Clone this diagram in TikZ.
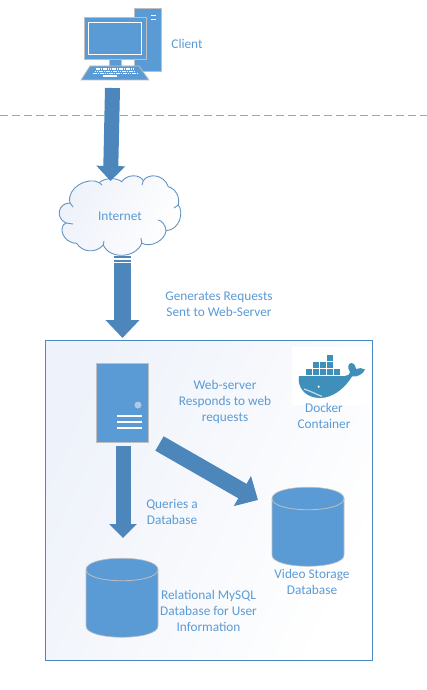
\documentclass[tikz,border=0pt]{standalone}
\usepackage{fontspec}
\setmainfont{Carlito}
\usetikzlibrary{arrows.meta,calc}
\definecolor{iconblue}{HTML}{5B9BD5}
\definecolor{arrowblue}{HTML}{4C86BB}
\definecolor{boxblue}{HTML}{4A88C4}
\definecolor{rimgray}{HTML}{BFBFBF}
\definecolor{whaleblue}{HTML}{3F8FBB}
\definecolor{paleblue}{HTML}{EEF2FA}
\definecolor{palecloud}{HTML}{EDF1F9}
\definecolor{dotblue}{HTML}{B0C8E4}
\tikzset{
  txt/.style={text=iconblue,font=\fontsize{13.3}{16}\selectfont,align=center,inner sep=0pt},
  blockarrow/.style={draw=arrowblue,line width=#1},
  blockarrow/.default=16pt,
  anchorbox/.style={inner sep=0pt,draw=none},
  iconfill/.style={fill=iconblue,draw=rimgray,line width=1pt},
  whitebar/.style={draw=white,line width=1.2pt},
}
\newcommand{\dbcyl}[4]{% name, left, top, width
  \node[anchorbox,minimum width=#4pt,minimum height=80pt] (#1) at (#2+#4/2,#3+40) {};
  \draw[fill=iconblue,draw=rimgray,line width=.6pt] (#2,#3+11.5) .. controls (#2,#3-3.5) and (#2+#4,#3-3.5) .. (#2+#4,#3+11.5)
     -- (#2+#4,#3+68) .. controls (#2+#4,#3+83) and (#2,#3+83) .. (#2,#3+68) -- cycle;
  \draw[rimgray,line width=0.8pt] (#2,#3+11.5) .. controls (#2,#3+26.5) and (#2+#4,#3+26.5) .. (#2+#4,#3+11.5);
}
\begin{document}
\begin{tikzpicture}[x=1pt,y=-1pt]
\useasboundingbox (0,0) rectangle (427,690);
\fill[white] (0,0) rectangle (427,690);

% separator
\draw[black!35,line width=1pt,dash pattern=on 8pt off 4pt] (0,116) -- (427,116);

% container
\node[draw=boxblue,line width=1pt,minimum width=327pt,minimum height=320pt,inner sep=0pt,
  left color=paleblue,middle color=white,right color=white,shading angle=65] (container) at (208.5,500) {};
\fill[white] (292,347) rectangle (370,405);

% client computer
\node[anchorbox,minimum width=81pt,minimum height=72pt] (pc) at (120.5,44.5) {};
\draw[iconfill] (134,9) rectangle (161,72);
\draw[white,line width=1.1pt] (151,15.5) -- (156,15.5) (151,19.5) -- (156,19.5);
\fill[iconblue] (109,60) rectangle (121,67);
\draw[rimgray,line width=.8pt] (109,60) -- (109,66) (121,60) -- (121,66);
\draw[iconfill] (84,18) rectangle (146,60);
\draw[white,line width=1pt] (88.5,22.5) rectangle (141.5,55);
\draw[fill=iconblue,draw=rimgray,line width=.8pt] (90,66) -- (139,66) -- (149,80) -- (81,80) -- cycle;
\draw[white,line width=1.2pt,dash pattern=on 1.6pt off .7pt]
  (96,69) -- (134,69) (94.5,71.2) -- (135.5,71.2) (93,73.4) -- (137,73.4);
\draw[white,line width=1.5pt] (103,75.8) -- (117,75.8);
\node[txt,anchor=center] (clientlbl) at (187,44) {Client};

% cloud
\path[left color=palecloud,right color=white,shading angle=65,draw=iconblue!80!gray,line width=.9pt]
  (99.3,182.7) .. controls (104,178) and (116,177) .. (121.7,181.7)
  .. controls (127,174) and (140,174) .. (143.3,180.7)
  .. controls (148,173) and (164,174) .. (168.3,186.7)
  .. controls (176,189) and (180,197) .. (178.3,205)
  .. controls (184,212) and (180,230) .. (166,230.7)
  .. controls (165,240) and (152,248) .. (141.7,243.3)
  .. controls (136,258) and (110,260) .. (103.3,245)
  .. controls (95,254) and (82,252) .. (76.7,243.3)
  .. controls (62,243) and (58,226) .. (66,223)
  .. controls (55,218) and (58,203) .. (70,203)
  .. controls (66,188) and (88,176) .. (99.3,182.7) -- cycle;
\draw[iconblue!80!gray,line width=.9pt]
  (99.3,182.7) -- (102,185)
  (143.3,180.7) -- (142,185)
  (178.3,205) -- (174,208)
  (166,230.7) .. controls (166,225) and (161,220) .. (158,220)
  (141.7,243.3) -- (141,238)
  (103.3,245) -- (104,241)
  (66,223) -- (73,224)
  (70,203) -- (73,207);
\node[txt] (cloud) at (120,216) {Internet};

% server
\node[iconfill,minimum width=52pt,minimum height=79pt,inner sep=0pt] (server) at (122,402.5) {};
\fill[dotblue] (138,405) circle (3.5);
\draw[whitebar] (117,416) -- (142,416) (117,422) -- (142,422) (117,428) -- (142,428);

% databases
\dbcyl{dbone}{272}{487}{72}
\dbcyl{dbtwo}{86}{558}{72}

% docker whale
\node[anchorbox,minimum width=66pt,minimum height=43pt] (whale) at (332,376) {};
\foreach \bx/\by in {305.5/369,312.5/369,319.5/369,326.5/369,333.5/369,
                     312.5/362,319.5/362,326.5/362,326.5/355}
  \fill[whaleblue] (\bx,\by) rectangle +(6,6);
\fill[whaleblue] (299,376) -- (345,376)
  .. controls (348,376) and (350,374) .. (350,372)
  .. controls (347,368) and (348,363) .. (351.5,363)
  .. controls (355,364) and (356,367) .. (356,369)
  .. controls (359,367.5) and (362,368) .. (365,369.5)
  .. controls (363,374) and (358,377) .. (352,376.5)
  .. controls (345,388) and (333,398) .. (320,398)
  .. controls (305,398) and (297,387) .. (299,376) -- cycle;
\draw[white!70!whaleblue,line width=1.2pt] (304,389) .. controls (310,391) and (316,394) .. (322,396.5);
\fill[white] (318.7,386.7) circle (1.2);
\node[txt] (dockerlbl) at (324,416) {Docker\\Container};

% connectors
\coordinate (pcout) at (112.5,88);
\coordinate (cloudin) at (110.5,181);
\coordinate (cloudout) at (122.5,263);
\coordinate (containerin) at (122.5,338);
\coordinate (serverout) at (123,446);
\coordinate (dbtwoin) at (123,538);
\coordinate (serverside) at (159.5,443.5);
\coordinate (dbonein) at (258,500);
\draw[blockarrow=15pt,-{Triangle[width=28pt,length=15pt]}] (pcout) -- (cloudin);
\draw[blockarrow=17pt,-{Triangle[width=33pt,length=18pt]}] (cloudout) -- (containerin);
\draw[blockarrow=15pt,-{Triangle[width=27pt,length=14pt]}] (serverout) -- (dbtwoin);
\draw[blockarrow=16.6pt,-{Triangle[width=33.6pt,length=18pt]}] (serverside) -- (dbonein);
\fill[arrowblue] (114,256) rectangle (131,258);
\fill[arrowblue] (114,259.5) rectangle (131,262);

% labels
\node[txt] (genlbl) at (219,304) {Generates Requests\\Sent to Web-Server};
\node[txt] (weblbl) at (225,402) {Web-server\\Responds to web\\requests};
\node[txt] (querylbl) at (172,512) {Queries a\\Database};
\node[txt] (rellbl) at (208.5,611) {Relational MySQL\\Database for User\\Information};
\node[txt] (vidlbl) at (312,582) {Video Storage\\Database};
\end{tikzpicture}
\end{document}
